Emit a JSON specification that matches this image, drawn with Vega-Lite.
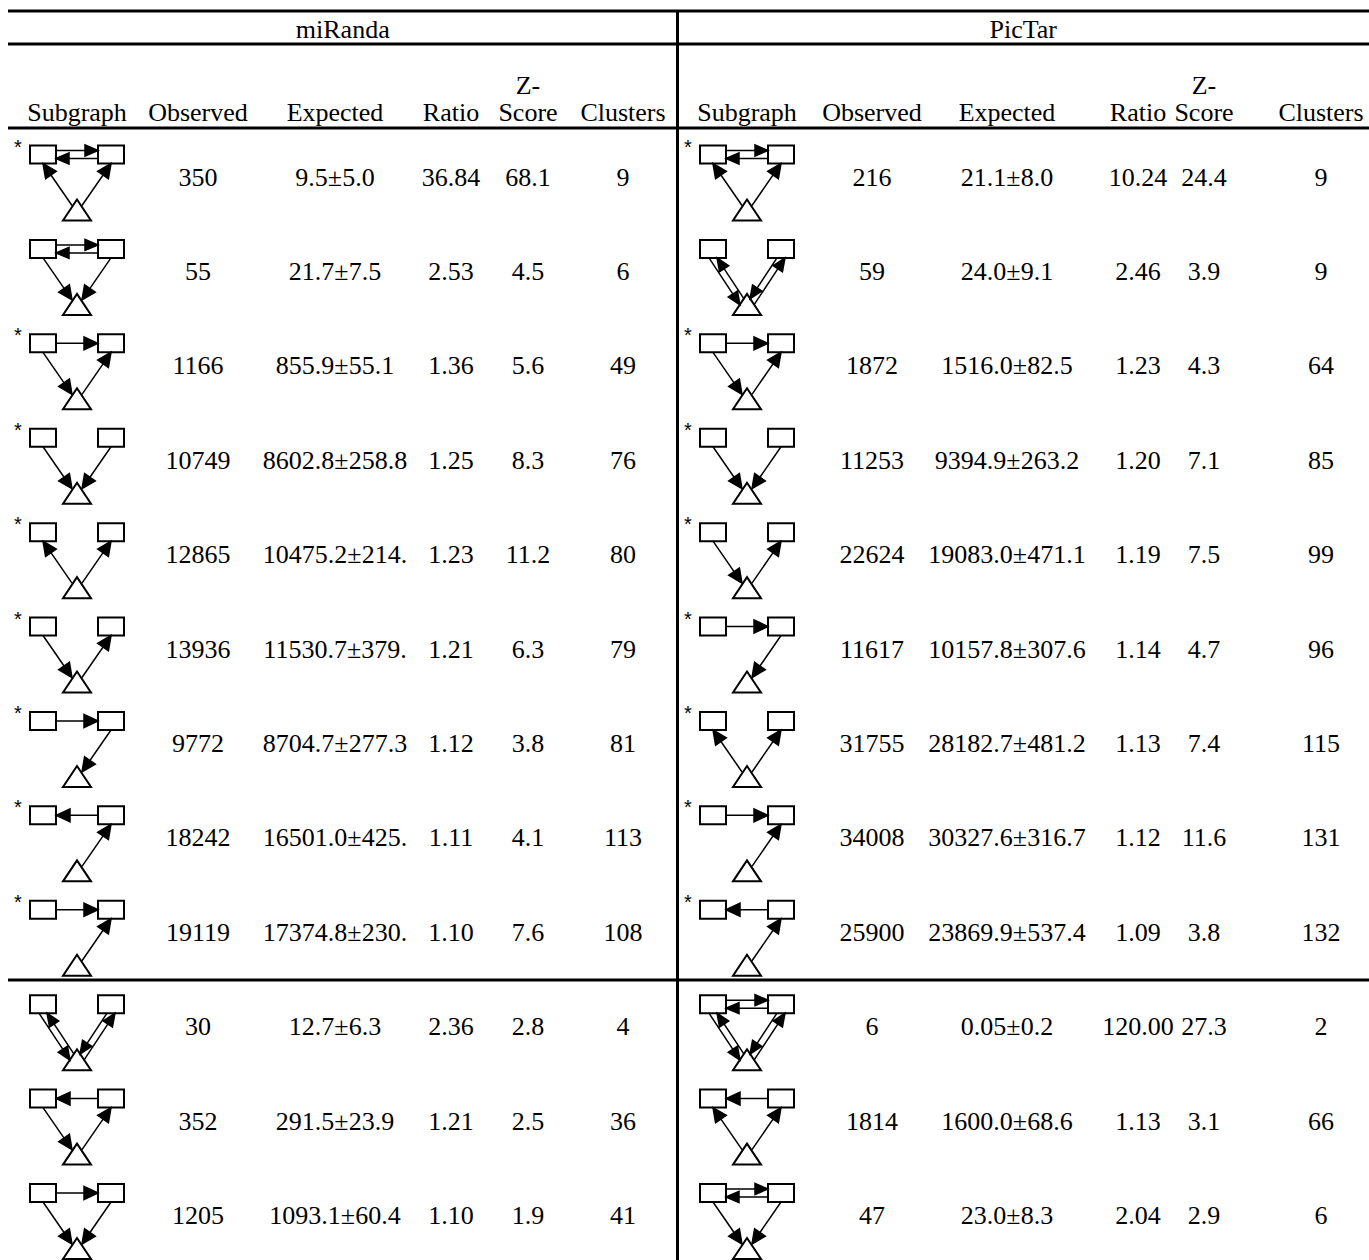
{
  "$schema": "https://vega.github.io/schema/vega-lite/v6.json",
  "width": 1369,
  "height": 1260,
  "autosize": {"type": "fit", "contains": "padding"},
  "padding": 0,
  "background": "white",
  "config": {"view": {"stroke": null}, "axis": {"disable": true}},
  "datasets": {
    "miRanda": [
      {"row": 1, "star": true, "edges": ["A<->B", "C->A", "C->B"], "observed": "350", "expected": "9.5±5.0", "ratio": "36.84", "z": "68.1", "clusters": "9"},
      {"row": 2, "star": false, "edges": ["A<->B", "A->C", "B->C"], "observed": "55", "expected": "21.7±7.5", "ratio": "2.53", "z": "4.5", "clusters": "6"},
      {"row": 3, "star": true, "edges": ["A->B", "A->C", "C->B"], "observed": "1166", "expected": "855.9±55.1", "ratio": "1.36", "z": "5.6", "clusters": "49"},
      {"row": 4, "star": true, "edges": ["A->C", "B->C"], "observed": "10749", "expected": "8602.8±258.8", "ratio": "1.25", "z": "8.3", "clusters": "76"},
      {"row": 5, "star": true, "edges": ["C->A", "C->B"], "observed": "12865", "expected": "10475.2±214.3", "ratio": "1.23", "z": "11.2", "clusters": "80"},
      {"row": 6, "star": true, "edges": ["A->C", "C->B"], "observed": "13936", "expected": "11530.7±379.6", "ratio": "1.21", "z": "6.3", "clusters": "79"},
      {"row": 7, "star": true, "edges": ["A->B", "B->C"], "observed": "9772", "expected": "8704.7±277.3", "ratio": "1.12", "z": "3.8", "clusters": "81"},
      {"row": 8, "star": true, "edges": ["B->A", "C->B"], "observed": "18242", "expected": "16501.0±425.2", "ratio": "1.11", "z": "4.1", "clusters": "113"},
      {"row": 9, "star": true, "edges": ["A->B", "C->B"], "observed": "19119", "expected": "17374.8±230.3", "ratio": "1.10", "z": "7.6", "clusters": "108"},
      {"row": 10, "star": false, "edges": ["A<->C", "B<->C"], "observed": "30", "expected": "12.7±6.3", "ratio": "2.36", "z": "2.8", "clusters": "4"},
      {"row": 11, "star": false, "edges": ["B->A", "A->C", "C->B"], "observed": "352", "expected": "291.5±23.9", "ratio": "1.21", "z": "2.5", "clusters": "36"},
      {"row": 12, "star": false, "edges": ["A->B", "A->C", "B->C"], "observed": "1205", "expected": "1093.1±60.4", "ratio": "1.10", "z": "1.9", "clusters": "41"}
    ],
    "PicTar": [
      {"row": 1, "star": true, "edges": ["A<->B", "C->A", "C->B"], "observed": "216", "expected": "21.1±8.0", "ratio": "10.24", "z": "24.4", "clusters": "9"},
      {"row": 2, "star": false, "edges": ["A<->C", "B<->C"], "observed": "59", "expected": "24.0±9.1", "ratio": "2.46", "z": "3.9", "clusters": "9"},
      {"row": 3, "star": true, "edges": ["A->B", "A->C", "C->B"], "observed": "1872", "expected": "1516.0±82.5", "ratio": "1.23", "z": "4.3", "clusters": "64"},
      {"row": 4, "star": true, "edges": ["A->C", "B->C"], "observed": "11253", "expected": "9394.9±263.2", "ratio": "1.20", "z": "7.1", "clusters": "85"},
      {"row": 5, "star": true, "edges": ["A->C", "C->B"], "observed": "22624", "expected": "19083.0±471.1", "ratio": "1.19", "z": "7.5", "clusters": "99"},
      {"row": 6, "star": true, "edges": ["A->B", "B->C"], "observed": "11617", "expected": "10157.8±307.6", "ratio": "1.14", "z": "4.7", "clusters": "96"},
      {"row": 7, "star": true, "edges": ["C->A", "C->B"], "observed": "31755", "expected": "28182.7±481.2", "ratio": "1.13", "z": "7.4", "clusters": "115"},
      {"row": 8, "star": true, "edges": ["A->B", "C->B"], "observed": "34008", "expected": "30327.6±316.7", "ratio": "1.12", "z": "11.6", "clusters": "131"},
      {"row": 9, "star": true, "edges": ["B->A", "C->B"], "observed": "25900", "expected": "23869.9±537.4", "ratio": "1.09", "z": "3.8", "clusters": "132"},
      {"row": 10, "star": false, "edges": ["A<->B", "A<->C", "B<->C"], "observed": "6", "expected": "0.05±0.2", "ratio": "120.00", "z": "27.3", "clusters": "2"},
      {"row": 11, "star": false, "edges": ["B->A", "C->A", "C->B"], "observed": "1814", "expected": "1600.0±68.6", "ratio": "1.13", "z": "3.1", "clusters": "66"},
      {"row": 12, "star": false, "edges": ["A<->B", "A->C", "B->C"], "observed": "47", "expected": "23.0±8.3", "ratio": "2.04", "z": "2.9", "clusters": "6"}
    ],
    "columns": [
      {"col": 0, "label": "Subgraph"}, {"col": 1, "label": "Observed"}, {"col": 2, "label": "Expected"},
      {"col": 3, "label": "Ratio"}, {"col": 4, "label": "Z-\nScore"}, {"col": 5, "label": "Clusters"},
      {"col": 6, "label": "Subgraph"}, {"col": 7, "label": "Observed"}, {"col": 8, "label": "Expected"},
      {"col": 9, "label": "Ratio"}, {"col": 10, "label": "Z-\nScore"}, {"col": 11, "label": "Clusters"}
    ],
    "panels": [{"panel": "miRanda"}, {"panel": "PicTar"}]
  },
  "layer": [
    {
      "data": {"name": "columns"},
      "transform": [{"filter": "indexof(datum.label, '\\n') < 0"}],
      "mark": {"type": "text", "font": "Liberation Serif", "fontSize": 26, "align": "center", "baseline": "bottom", "lineBreak": "\n", "lineHeight": 27, "dy": -2, "color": "black"},
      "encoding": {
        "x": {"field": "col", "type": "quantitative", "scale": {"type": "linear", "domain": [-0.5, 0, 1, 2, 2.5, 3, 4, 5, 5.5, 6, 7, 8, 8.5, 9, 10, 11, 11.5], "range": [8, 77, 198, 335, 342.75, 451, 528, 623, 677.5, 747, 872, 1007, 1023.25, 1138, 1204, 1321, 1369], "zero": false, "nice": false}},
        "y": {"datum": 0.5, "type": "quantitative", "scale": {"type": "linear", "domain": [-1.5, -1, -0.5, 0.5, 1, 12, 12.5], "range": [11, 29.5, 44, 128, 177.5, 1216, 1260], "zero": false, "nice": false}},
        "text": {"field": "label"}
      }
    },
    {
      "data": {"name": "columns"},
      "transform": [{"filter": "indexof(datum.label, '\\n') >= 0"}],
      "mark": {"type": "text", "font": "Liberation Serif", "fontSize": 26, "align": "center", "baseline": "bottom", "lineBreak": "\n", "lineHeight": 27, "dy": -29, "color": "black"},
      "encoding": {
        "x": {"field": "col", "type": "quantitative"},
        "y": {"datum": 0.5, "type": "quantitative"},
        "text": {"field": "label"}
      }
    },
    {
      "data": {"name": "panels"},
      "transform": [{"filter": "datum.panel === 'miRanda'"}],
      "mark": {"type": "text", "font": "Liberation Serif", "fontSize": 26, "align": "center", "baseline": "middle", "color": "black"},
      "encoding": {"x": {"datum": 2.5, "type": "quantitative"}, "y": {"datum": -1, "type": "quantitative"}, "text": {"field": "panel"}}
    },
    {
      "data": {"name": "panels"},
      "transform": [{"filter": "datum.panel === 'PicTar'"}],
      "mark": {"type": "text", "font": "Liberation Serif", "fontSize": 26, "align": "center", "baseline": "middle", "color": "black"},
      "encoding": {"x": {"datum": 8.5, "type": "quantitative"}, "y": {"datum": -1, "type": "quantitative"}, "text": {"field": "panel"}}
    },
    {
      "data": {"values": [{}]},
      "mark": {"type": "rule", "strokeWidth": 3, "color": "black"},
      "encoding": {"x": {"datum": -0.5, "type": "quantitative"}, "x2": {"datum": 11.5}, "y": {"datum": -1.5, "type": "quantitative"}}
    },
    {
      "data": {"values": [{}]},
      "mark": {"type": "rule", "strokeWidth": 3, "color": "black"},
      "encoding": {"x": {"datum": -0.5, "type": "quantitative"}, "x2": {"datum": 11.5}, "y": {"datum": -0.5, "type": "quantitative"}}
    },
    {
      "data": {"values": [{}]},
      "mark": {"type": "rule", "strokeWidth": 3, "color": "black"},
      "encoding": {"x": {"datum": -0.5, "type": "quantitative"}, "x2": {"datum": 11.5}, "y": {"datum": 0.5, "type": "quantitative"}}
    },
    {
      "data": {"values": [{}]},
      "mark": {"type": "rule", "strokeWidth": 3, "color": "black"},
      "encoding": {"x": {"datum": -0.5, "type": "quantitative"}, "x2": {"datum": 11.5}, "y": {"datum": 9.5, "type": "quantitative"}}
    },
    {
      "data": {"values": [{}]},
      "mark": {"type": "rule", "strokeWidth": 3, "color": "black"},
      "encoding": {"x": {"datum": 5.5, "type": "quantitative"}, "y": {"datum": -1.5, "type": "quantitative"}, "y2": {"datum": 12.5}}
    },

    {
      "data": {"name": "miRanda"},
      "mark": {"type": "point", "shape": "M-47,-32L-21,-32L-21,-14L-47,-14Z M21,-32L47,-32L47,-14L21,-14Z M0,22L14,43L-14,43Z", "size": 4, "filled": true, "fill": "white", "stroke": "black", "strokeWidth": 2, "opacity": 1},
      "encoding": {"x": {"datum": 0, "type": "quantitative"}, "y": {"field": "row", "type": "quantitative"}}
    },
    {
      "data": {"name": "miRanda"},
      "transform": [{"flatten": ["edges"]}],
      "mark": {"type": "point", "size": 4, "filled": true, "fill": "black", "stroke": "black", "strokeWidth": 1.5, "opacity": 1},
      "encoding": {
        "x": {"datum": 0, "type": "quantitative"},
        "y": {"field": "row", "type": "quantitative"},
        "shape": {"field": "edges", "type": "nominal", "legend": null, "scale": {
          "domain": ["A->B", "B->A", "A<->B", "A->C", "C->A", "B->C", "C->B", "A<->C", "B<->C"],
          "range": [
            "M-21,-23L21,-23M21,-23L7,-29.5L7,-16.5Z",
            "M21,-23L-21,-23M-21,-23L-7,-29.5L-7,-16.5Z",
            "M-21,-27L21,-27M21,-27L8,-32.5L8,-21.5Z M21,-19L-21,-19M-21,-19L-8,-24.5L-8,-13.5Z",
            "M-34,-14L-5,28M-5,28L-18.3,20.17L-7.6,12.79Z",
            "M-5,28L-34,-14M-34,-14L-31.4,1.21L-20.7,-6.17Z",
            "M34,-14L5,28M5,28L18.3,20.17L7.6,12.79Z",
            "M5,28L34,-14M34,-14L31.4,1.21L20.7,-6.17Z",
            "M-38,-14L-7,33M-7,33L-18.75,25.17L-9.57,19.11Z M-3,27L-30,-14M-30,-14L-27.44,-0.11L-18.26,-6.17Z",
            "M30,-14L3,27M3,27L14.74,19.17L5.56,13.11Z M7,33L38,-14M38,-14L35.43,-0.11L26.25,-6.17Z"
          ]}}
      }
    },
    {
      "data": {"name": "miRanda"},
      "transform": [{"filter": "datum.star"}],
      "mark": {"type": "text", "font": "Liberation Sans", "fontSize": 20, "align": "center", "baseline": "middle", "dx": -59, "dy": -30, "color": "black"},
      "encoding": {"x": {"datum": 0, "type": "quantitative"}, "y": {"field": "row", "type": "quantitative"}, "text": {"value": "*"}}
    },
    {
      "data": {"name": "miRanda"},
      "mark": {"type": "text", "font": "Liberation Serif", "fontSize": 26, "align": "center", "baseline": "middle", "color": "black"},
      "encoding": {"x": {"datum": 1, "type": "quantitative"}, "y": {"field": "row", "type": "quantitative"}, "text": {"field": "observed"}}
    },
    {
      "data": {"name": "miRanda"},
      "mark": {"type": "text", "font": "Liberation Serif", "fontSize": 26, "align": "center", "baseline": "middle", "color": "black", "limit": 150, "ellipsis": "\u200b"},
      "encoding": {"x": {"datum": 2, "type": "quantitative"}, "y": {"field": "row", "type": "quantitative"}, "text": {"field": "expected"}}
    },
    {
      "data": {"name": "miRanda"},
      "mark": {"type": "text", "font": "Liberation Serif", "fontSize": 26, "align": "center", "baseline": "middle", "color": "black"},
      "encoding": {"x": {"datum": 3, "type": "quantitative"}, "y": {"field": "row", "type": "quantitative"}, "text": {"field": "ratio"}}
    },
    {
      "data": {"name": "miRanda"},
      "mark": {"type": "text", "font": "Liberation Serif", "fontSize": 26, "align": "center", "baseline": "middle", "color": "black"},
      "encoding": {"x": {"datum": 4, "type": "quantitative"}, "y": {"field": "row", "type": "quantitative"}, "text": {"field": "z"}}
    },
    {
      "data": {"name": "miRanda"},
      "mark": {"type": "text", "font": "Liberation Serif", "fontSize": 26, "align": "center", "baseline": "middle", "color": "black"},
      "encoding": {"x": {"datum": 5, "type": "quantitative"}, "y": {"field": "row", "type": "quantitative"}, "text": {"field": "clusters"}}
    },

    {
      "data": {"name": "PicTar"},
      "mark": {"type": "point", "shape": "M-47,-32L-21,-32L-21,-14L-47,-14Z M21,-32L47,-32L47,-14L21,-14Z M0,22L14,43L-14,43Z", "size": 4, "filled": true, "fill": "white", "stroke": "black", "strokeWidth": 2, "opacity": 1},
      "encoding": {"x": {"datum": 6, "type": "quantitative"}, "y": {"field": "row", "type": "quantitative"}}
    },
    {
      "data": {"name": "PicTar"},
      "transform": [{"flatten": ["edges"]}],
      "mark": {"type": "point", "size": 4, "filled": true, "fill": "black", "stroke": "black", "strokeWidth": 1.5, "opacity": 1},
      "encoding": {
        "x": {"datum": 6, "type": "quantitative"},
        "y": {"field": "row", "type": "quantitative"},
        "shape": {"field": "edges", "type": "nominal", "legend": null}
      }
    },
    {
      "data": {"name": "PicTar"},
      "transform": [{"filter": "datum.star"}],
      "mark": {"type": "text", "font": "Liberation Sans", "fontSize": 20, "align": "center", "baseline": "middle", "dx": -59, "dy": -30, "color": "black"},
      "encoding": {"x": {"datum": 6, "type": "quantitative"}, "y": {"field": "row", "type": "quantitative"}, "text": {"value": "*"}}
    },
    {
      "data": {"name": "PicTar"},
      "mark": {"type": "text", "font": "Liberation Serif", "fontSize": 26, "align": "center", "baseline": "middle", "color": "black"},
      "encoding": {"x": {"datum": 7, "type": "quantitative"}, "y": {"field": "row", "type": "quantitative"}, "text": {"field": "observed"}}
    },
    {
      "data": {"name": "PicTar"},
      "mark": {"type": "text", "font": "Liberation Serif", "fontSize": 26, "align": "center", "baseline": "middle", "color": "black"},
      "encoding": {"x": {"datum": 8, "type": "quantitative"}, "y": {"field": "row", "type": "quantitative"}, "text": {"field": "expected"}}
    },
    {
      "data": {"name": "PicTar"},
      "mark": {"type": "text", "font": "Liberation Serif", "fontSize": 26, "align": "center", "baseline": "middle", "color": "black"},
      "encoding": {"x": {"datum": 9, "type": "quantitative"}, "y": {"field": "row", "type": "quantitative"}, "text": {"field": "ratio"}}
    },
    {
      "data": {"name": "PicTar"},
      "mark": {"type": "text", "font": "Liberation Serif", "fontSize": 26, "align": "center", "baseline": "middle", "color": "black"},
      "encoding": {"x": {"datum": 10, "type": "quantitative"}, "y": {"field": "row", "type": "quantitative"}, "text": {"field": "z"}}
    },
    {
      "data": {"name": "PicTar"},
      "mark": {"type": "text", "font": "Liberation Serif", "fontSize": 26, "align": "center", "baseline": "middle", "color": "black"},
      "encoding": {"x": {"datum": 11, "type": "quantitative"}, "y": {"field": "row", "type": "quantitative"}, "text": {"field": "clusters"}}
    }
  ]
}
